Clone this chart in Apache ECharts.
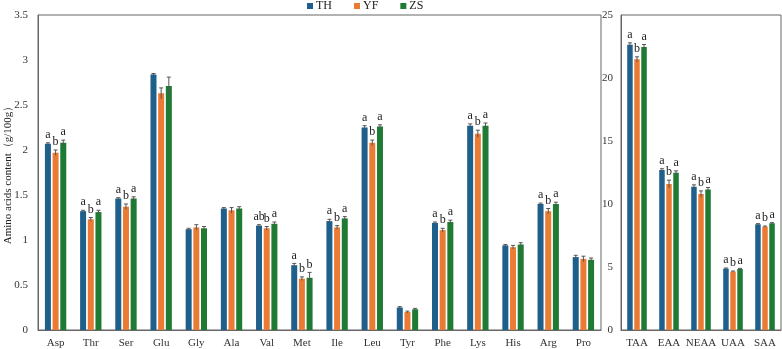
<!DOCTYPE html>
<html>
<head>
<meta charset="utf-8">
<script src="https://cdn.jsdelivr.net/npm/echarts@6/dist/echarts.min.js"></script>
<style>
  html, body { margin: 0; padding: 0; background: #fff; }
  #main { width: 782px; height: 349px; }
</style>
</head>
<body>
<div id="main"></div>
<script>
const FONT = '"Liberation Serif", "Times New Roman", serif';
const seriesNames = ['TH', 'YF', 'ZS'];
const colors = ['#1f5f8b', '#ea7b35', '#1f7a34'];

// left panel: individual amino acids (g/100g)
const aminoAcids = ['Asp', 'Thr', 'Ser', 'Glu', 'Gly', 'Ala', 'Val', 'Met', 'Ile', 'Leu', 'Tyr', 'Phe', 'Lys', 'His', 'Arg', 'Pro'];
const thVals = [2.07, 1.32, 1.46, 2.84, 1.12, 1.35, 1.16, 0.72, 1.21, 2.25, 0.25, 1.19, 2.27, 0.94, 1.40, 0.81];
const yfVals = [1.97, 1.23, 1.37, 2.63, 1.14, 1.33, 1.13, 0.57, 1.14, 2.08, 0.20, 1.11, 2.18, 0.92, 1.32, 0.79];
const zsVals = [2.08, 1.31, 1.46, 2.71, 1.13, 1.35, 1.18, 0.58, 1.24, 2.26, 0.23, 1.20, 2.27, 0.95, 1.40, 0.78];
const thErr = [0.01, 0.01, 0.01, 0.01, 0.01, 0.01, 0.01, 0.02, 0.02, 0.02, 0.01, 0.01, 0.02, 0.01, 0.01, 0.02];
const yfErr = [0.03, 0.02, 0.03, 0.06, 0.03, 0.03, 0.02, 0.02, 0.02, 0.03, 0.01, 0.02, 0.04, 0.02, 0.03, 0.03];
const zsErr = [0.03, 0.02, 0.02, 0.10, 0.02, 0.02, 0.02, 0.06, 0.02, 0.02, 0.01, 0.02, 0.03, 0.02, 0.02, 0.02];
const thSig = ['a', 'a', 'a', '', '', '', 'ab', 'a', 'a', 'a', '', 'a', 'a', '', 'a', ''];
const yfSig = ['b', 'b', 'b', '', '', '', 'b', 'b', 'b', 'b', '', 'b', 'b', '', 'b', ''];
const zsSig = ['a', 'a', 'a', '', '', '', 'a', 'b', 'a', 'a', '', 'a', 'a', '', 'a', ''];

// right panel: totals (g/100g)
const groups = ['TAA', 'EAA', 'NEAA', 'UAA', 'SAA'];
const thTot = [22.64, 12.70, 11.37, 4.87, 8.39];
const yfTot = [21.48, 11.59, 10.79, 4.63, 8.20];
const zsTot = [22.46, 12.48, 11.16, 4.84, 8.47];
const thTotErr = [0.15, 0.10, 0.15, 0.05, 0.05];
const yfTotErr = [0.20, 0.30, 0.25, 0.05, 0.05];
const zsTotErr = [0.20, 0.15, 0.15, 0.05, 0.05];
const thTotSig = ['a', 'a', 'a', 'a', 'a'];
const yfTotSig = ['b', 'b', 'b', 'b', 'b'];
const zsTotSig = ['a', 'a', 'a', 'a', 'a'];

const chart = echarts.init(document.getElementById('main'));

// error bar + significance letter, shifted to sit over bar k of the group
function errSeries(name, axisIdx, vals, errs, sigs, k, barW, gapPx) {
  return {
    type: 'custom',
    name: name,
    xAxisIndex: axisIdx,
    yAxisIndex: axisIdx,
    z: 5,
    silent: true,
    data: vals.map((v, i) => [i, v, errs[i]]),
    renderItem: function (params, api) {
      const i = api.value(0), v = api.value(1), e = api.value(2);
      const sig = sigs[i];
      const off = (k - 1) * (barW + gapPx);
      const top = api.coord([i, v + e]);
      const bot = api.coord([i, v - e]);
      const x = top[0] + off;
      const st = { stroke: '#555', lineWidth: 1 };
      const children = [
        { type: 'line', shape: { x1: x, y1: top[1], x2: x, y2: bot[1] }, style: st },
        { type: 'line', shape: { x1: x - 2, y1: top[1], x2: x + 2, y2: top[1] }, style: st }
      ];
      if (sig) {
        children.push({
          type: 'text',
          style: { text: sig, x: x, y: top[1] - 2, align: 'center', verticalAlign: 'bottom',
                   font: '12px ' + FONT, fill: '#222' }
        });
      }
      return { type: 'group', children: children };
    }
  };
}

function barSeries(name, axisIdx, vals, k, barW) {
  return {
    type: 'bar',
    name: name,
    xAxisIndex: axisIdx,
    yAxisIndex: axisIdx,
    data: vals,
    barWidth: barW,
    barGap: '28%',
    itemStyle: { color: colors[k] }
  };
}

const axisLabelStyle = { color: '#333', fontFamily: FONT, fontSize: 11 };

const option = {
  animation: false,
  textStyle: { fontFamily: FONT },
  legend: {
    data: seriesNames,
    top: 0,
    left: 302,
    padding: [0, 5],
    icon: 'rect',
    itemWidth: 6,
    itemHeight: 6,
    itemGap: 22,
    textStyle: { fontFamily: FONT, fontSize: 12, color: '#222', padding: [0, 0, 0, -2] }
  },
  grid: [
    { left: 38, right: 181, top: 15, bottom: 19, outerBoundsMode: 'none', containLabel: false,
      show: true, borderColor: '#666', borderWidth: 1 },
    { left: 621, right: 1, top: 15, bottom: 19, outerBoundsMode: 'none', containLabel: false,
      show: true, borderColor: '#666', borderWidth: 1 }
  ],
  xAxis: [
    { type: 'category', gridIndex: 0, data: aminoAcids,
      axisTick: { show: false }, axisLine: { lineStyle: { color: '#666' } },
      axisLabel: Object.assign({ margin: 8, interval: 0 }, axisLabelStyle) },
    { type: 'category', gridIndex: 1, data: groups,
      axisTick: { show: false }, axisLine: { lineStyle: { color: '#666' } },
      axisLabel: Object.assign({ margin: 8, interval: 0 }, axisLabelStyle) }
  ],
  yAxis: [
    { type: 'value', gridIndex: 0, min: 0, max: 3.5, interval: 0.5,
      name: 'Amino acids content（g/100g）', nameLocation: 'middle', nameGap: 24,
      nameMoveOverlap: false,
      nameTextStyle: { fontFamily: FONT, fontSize: 11, color: '#222' },
      splitLine: { show: false }, axisTick: { show: false },
      axisLine: { show: true, lineStyle: { color: '#666' } },
      axisLabel: Object.assign({ margin: 10 }, axisLabelStyle) },
    { type: 'value', gridIndex: 1, min: 0, max: 25, interval: 5,
      splitLine: { show: false }, axisTick: { show: false },
      axisLine: { show: true, lineStyle: { color: '#666' } },
      axisLabel: Object.assign({ margin: 8 }, axisLabelStyle) }
  ],
  series: [
    barSeries('TH', 0, thVals, 0, 6),
    barSeries('YF', 0, yfVals, 1, 6),
    barSeries('ZS', 0, zsVals, 2, 6),
    barSeries('TH', 1, thTot, 0, 5.5),
    barSeries('YF', 1, yfTot, 1, 5.5),
    barSeries('ZS', 1, zsTot, 2, 5.5),
    errSeries('TH', 0, thVals, thErr, thSig, 0, 6, 6 * 0.28),
    errSeries('YF', 0, yfVals, yfErr, yfSig, 1, 6, 6 * 0.28),
    errSeries('ZS', 0, zsVals, zsErr, zsSig, 2, 6, 6 * 0.28),
    errSeries('TH', 1, thTot, thTotErr, thTotSig, 0, 5.5, 5.5 * 0.28),
    errSeries('YF', 1, yfTot, yfTotErr, yfTotSig, 1, 5.5, 5.5 * 0.28),
    errSeries('ZS', 1, zsTot, zsTotErr, zsTotSig, 2, 5.5, 5.5 * 0.28)
  ]
};

chart.setOption(option);
</script>
</body>
</html>
